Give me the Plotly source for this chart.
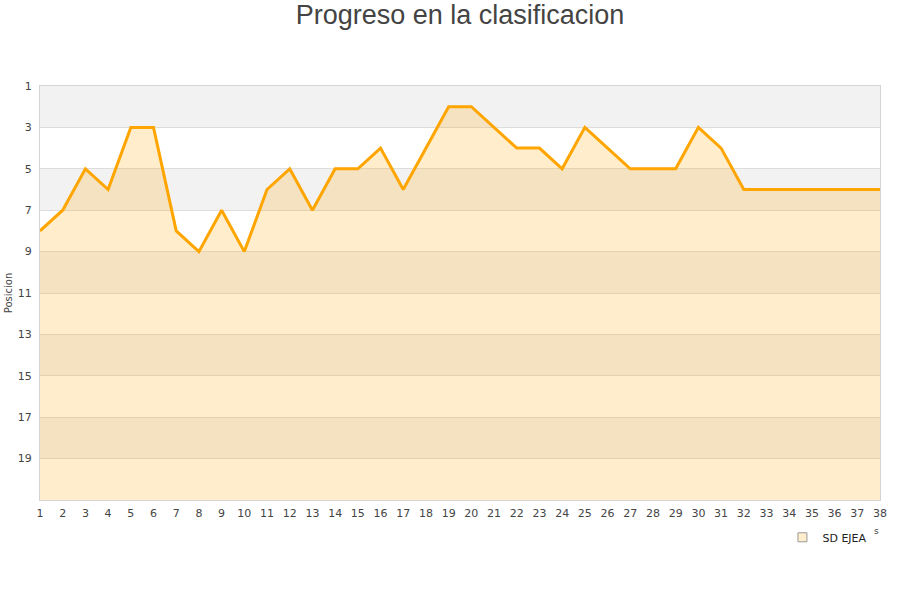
import plotly.graph_objects as go

jornadas = list(range(1, 39))
posiciones = [8, 7, 5, 6, 3, 3, 8, 9, 7, 9, 6, 5, 7, 5, 5, 4, 6, 4, 2, 2,
              3, 4, 4, 5, 3, 4, 5, 5, 5, 3, 4, 6, 6, 6, 6, 6, 6, 6]
y_ticks = [1, 3, 5, 7, 9, 11, 13, 15, 17, 19]
y_min, y_max = 1, 21
team = "SD EJEA"
title = "Progreso en la clasificacion"

fig = go.Figure()
# baseline for the fill
fig.add_trace(go.Scatter(x=jornadas, y=[y_max] * len(jornadas), mode="lines",
                         line=dict(width=0), showlegend=False, hoverinfo="skip"))
fig.add_trace(go.Scatter(x=jornadas, y=posiciones, mode="lines",
                         line=dict(color="#ffa500", width=3),
                         fill="tonexty", fillcolor="rgba(255,165,0,0.2)",
                         showlegend=False, name=team))
# legend swatch
fig.add_trace(go.Scatter(x=[None], y=[None], mode="markers", name=team,
                         marker=dict(symbol="square", size=9, color="#ffedcc",
                                     line=dict(color="#999999", width=1))))

shapes = []
for i, t in enumerate(range(y_min, y_max, 2)):
    if i % 2 == 0:
        shapes.append(dict(type="rect", xref="paper", yref="y", x0=0, x1=1,
                           y0=t, y1=t + 2, fillcolor="#f2f2f2", line=dict(width=0),
                           layer="below"))

fig.update_layout(
    width=900, height=600,
    margin=dict(l=40, r=20, t=86, b=100, autoexpand=False),
    paper_bgcolor="white", plot_bgcolor="white",
    title=dict(text=title, x=0.5, xanchor="center", xref="paper",
               yref="container", y=0.975, yanchor="middle", automargin=False,
               font=dict(family="Liberation Sans, Arial", size=27, color="#444444")),
    shapes=shapes,
    showlegend=True,
    legend=dict(x=0.991, xanchor="right", y=-0.055, yanchor="top",
                font=dict(family="DejaVu Sans", size=11, color="#222222"),
                bgcolor="rgba(0,0,0,0)", itemwidth=30),
    font=dict(family="DejaVu Sans", size=11, color="#444444"),
    annotations=[dict(text="s", xref="paper", yref="paper", x=0.996, y=-0.075,
                      xanchor="center", yanchor="middle", showarrow=False,
                      font=dict(size=9, color="#444444"))],
)
fig.update_xaxes(range=[1, 38], tickmode="array", tickvals=jornadas,
                 ticktext=[str(j) for j in jornadas], showgrid=False,
                 showline=True, linecolor="#d4d4d4", linewidth=1, mirror=True,
                 zeroline=False, ticks="", automargin=False, ticklabelstandoff=3,
                 tickfont=dict(size=11, color="#444444"))
fig.update_yaxes(range=[y_max, y_min], tickmode="array", tickvals=y_ticks,
                 ticktext=[str(t) for t in y_ticks], showgrid=True,
                 gridcolor="#dddddd", gridwidth=1, showline=True, linecolor="#d4d4d4",
                 linewidth=1, mirror=True, zeroline=False, ticks="",
                 ticklabelstandoff=5, automargin=False,
                 title=dict(text="Posicion", font=dict(size=10, color="#444444"),
                            standoff=3),
                 tickfont=dict(size=11, color="#444444"))

fig.write_html("out.html", config={"displayModeBar": False},
               post_script="document.body.style.margin='0';")
